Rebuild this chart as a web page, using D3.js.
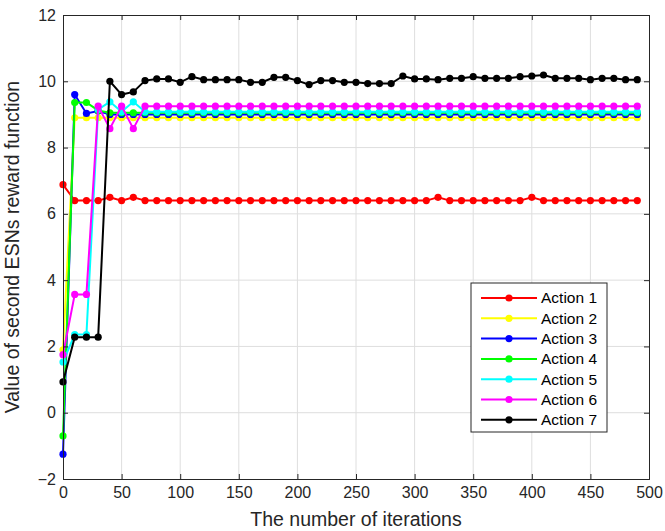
<!DOCTYPE html>
<html>
<head>
<meta charset="utf-8">
<script src="https://cdn.jsdelivr.net/npm/d3@7"></script>
<style>
  body { margin: 0; background: #fff; }
  text { font-family: Arial, "Liberation Sans", sans-serif; }
</style>
</head>
<body>
<div id="chart"></div>
<script>
// iterations 0,10,...,490
var iterations = d3.range(0, 500, 10);

var action1 = [6.88, 6.4, 6.4, 6.4, 6.5, 6.4, 6.5, 6.4, 6.4, 6.4,
  6.4, 6.4, 6.4, 6.4, 6.4, 6.4, 6.4, 6.4, 6.4, 6.4,
  6.4, 6.4, 6.4, 6.4, 6.4, 6.4, 6.4, 6.4, 6.4, 6.4,
  6.4, 6.4, 6.5, 6.4, 6.4, 6.4, 6.4, 6.4, 6.4, 6.4,
  6.5, 6.4, 6.4, 6.4, 6.4, 6.4, 6.4, 6.4, 6.4, 6.4];
var action2 = [1.9, 8.9, 8.9, 8.9, 8.9, 8.9, 8.9, 8.9, 8.9, 8.9,
  8.9, 8.9, 8.9, 8.9, 8.9, 8.9, 8.9, 8.9, 8.9, 8.9,
  8.9, 8.9, 8.9, 8.9, 8.9, 8.9, 8.9, 8.9, 8.9, 8.9,
  8.9, 8.9, 8.9, 8.9, 8.9, 8.9, 8.9, 8.9, 8.9, 8.9,
  8.9, 8.9, 8.9, 8.9, 8.9, 8.9, 8.9, 8.9, 8.9, 8.9];
var action3 = [-1.25, 9.6, 9.03, 9.1, 9.0, 9.0, 9.0, 9.0, 9.0, 9.0,
  9.0, 9.0, 9.0, 9.0, 9.0, 9.0, 9.0, 9.0, 9.0, 9.0,
  9.0, 9.0, 9.0, 9.0, 9.0, 9.0, 9.0, 9.0, 9.0, 9.0,
  9.0, 9.0, 9.0, 9.0, 9.0, 9.0, 9.0, 9.0, 9.0, 9.0,
  9.0, 9.0, 9.0, 9.0, 9.0, 9.0, 9.0, 9.0, 9.0, 9.0];
var action4 = [-0.7, 9.36, 9.36, 9.12, 9.05, 9.05, 9.05, 9.05, 9.05, 9.05,
  9.05, 9.05, 9.05, 9.05, 9.05, 9.05, 9.05, 9.05, 9.05, 9.05,
  9.05, 9.05, 9.05, 9.05, 9.05, 9.05, 9.05, 9.05, 9.05, 9.05,
  9.05, 9.05, 9.05, 9.05, 9.05, 9.05, 9.05, 9.05, 9.05, 9.05,
  9.05, 9.05, 9.05, 9.05, 9.05, 9.05, 9.05, 9.05, 9.05, 9.05];
var action5 = [1.53, 2.36, 2.36, 9.15, 9.38, 9.08, 9.38, 9.08, 9.08, 9.08,
  9.08, 9.08, 9.08, 9.08, 9.08, 9.08, 9.08, 9.08, 9.08, 9.08,
  9.08, 9.08, 9.08, 9.08, 9.08, 9.08, 9.08, 9.08, 9.08, 9.08,
  9.08, 9.08, 9.08, 9.08, 9.08, 9.08, 9.08, 9.08, 9.08, 9.08,
  9.08, 9.08, 9.08, 9.08, 9.08, 9.08, 9.08, 9.08, 9.08, 9.08];
var action6 = [1.75, 3.57, 3.57, 9.25, 8.57, 9.25, 8.57, 9.25, 9.25, 9.25,
  9.25, 9.25, 9.25, 9.25, 9.25, 9.25, 9.25, 9.25, 9.25, 9.25,
  9.25, 9.25, 9.25, 9.25, 9.25, 9.25, 9.25, 9.25, 9.25, 9.25,
  9.25, 9.25, 9.25, 9.25, 9.25, 9.25, 9.25, 9.25, 9.25, 9.25,
  9.25, 9.25, 9.25, 9.25, 9.25, 9.25, 9.25, 9.25, 9.25, 9.25];
var action7 = [0.93, 2.28, 2.28, 2.28, 10.0, 9.6, 9.68, 10.02, 10.07, 10.07,
  9.97, 10.14, 10.05, 10.05, 10.05, 10.05, 9.97, 9.97, 10.12, 10.12,
  10.02, 9.9, 10.02, 10.02, 9.97, 9.97, 9.93, 9.93, 9.93, 10.16,
  10.07, 10.07, 10.05, 10.09, 10.09, 10.14, 10.09, 10.09, 10.09, 10.14,
  10.16, 10.19, 10.09, 10.09, 10.09, 10.05, 10.09, 10.09, 10.05, 10.05];

var seriesNames = ["Action 1", "Action 2", "Action 3", "Action 4", "Action 5", "Action 6", "Action 7"];
var seriesColors = ["#ff0000", "#ffff00", "#0000ff", "#00ff00", "#00ffff", "#ff00ff", "#000000"];
var seriesValues = [action1, action2, action3, action4, action5, action6, action7];

var xTicks = d3.range(0, 501, 50);
var yTicks = d3.range(-2, 13, 2);

var svgWidth = 665;
var svgHeight = 531;
var margin = { top: 15, right: 16, bottom: 52, left: 63 };
var width = svgWidth - margin.left - margin.right;
var height = svgHeight - margin.top - margin.bottom;

var svg = d3.select("#chart")
  .append("svg")
  .attr("width", svgWidth)
  .attr("height", svgHeight);

var g = svg.append("g")
  .attr("transform", `translate(${margin.left}, ${margin.top})`);

var xScale = d3.scaleLinear().domain([0, 500]).range([0, width]);
var yScale = d3.scaleLinear().domain([-2, 12]).range([height, 0]);

// grid
g.append("g")
  .selectAll("line")
  .data(xTicks.slice(1, -1))
  .enter()
  .append("line")
  .attr("x1", d => xScale(d)).attr("x2", d => xScale(d))
  .attr("y1", 0).attr("y2", height)
  .attr("stroke", "#dedede")
  .attr("stroke-width", 1);

g.append("g")
  .selectAll("line")
  .data(yTicks.slice(1, -1))
  .enter()
  .append("line")
  .attr("y1", d => yScale(d)).attr("y2", d => yScale(d))
  .attr("x1", 0).attr("x2", width)
  .attr("stroke", "#dedede")
  .attr("stroke-width", 1);

// lines + markers
var line = d3.line()
  .x((d, i) => xScale(iterations[i]))
  .y(d => yScale(d));

seriesValues.forEach(function(vals, k) {
  g.append("path")
    .datum(vals)
    .attr("d", line)
    .attr("fill", "none")
    .attr("stroke", seriesColors[k])
    .attr("stroke-width", 2);

  g.append("g")
    .selectAll("circle")
    .data(vals)
    .enter()
    .append("circle")
    .attr("cx", (d, i) => xScale(iterations[i]))
    .attr("cy", d => yScale(d))
    .attr("r", 3.6)
    .attr("fill", seriesColors[k]);
});

// axes
var xAxis = d3.axisBottom(xScale).tickValues(xTicks).tickSize(-5).tickPadding(8).tickFormat(d3.format("d"));
var yAxis = d3.axisLeft(yScale).tickValues(yTicks).tickSize(-5).tickPadding(7).tickFormat(d3.format("d"));

var xAxisG = g.append("g")
  .attr("transform", `translate(0,${height})`)
  .call(xAxis);
var yAxisG = g.append("g").call(yAxis);

g.append("g").call(d3.axisTop(xScale).tickValues(xTicks).tickSize(-5).tickFormat(""));
g.append("g").attr("transform", `translate(${width},0)`)
  .call(d3.axisRight(yScale).tickValues(yTicks).tickSize(-5).tickFormat(""));

g.selectAll(".domain").attr("stroke", "#262626").attr("stroke-width", 1);
g.selectAll(".tick line").attr("stroke", "#262626");
g.selectAll(".tick text")
  .attr("fill", "#262626")
  .style("font-size", "16px");

// axis labels
g.append("text")
  .attr("x", width / 2)
  .attr("y", height + 47)
  .attr("text-anchor", "middle")
  .attr("fill", "#262626")
  .style("font-size", "19.5px")
  .text("The number of iterations");

g.append("text")
  .attr("transform", `translate(-44, ${height / 2}) rotate(-90)`)
  .attr("text-anchor", "middle")
  .attr("fill", "#262626")
  .style("font-size", "19.5px")
  .text("Value of second ESNs reward function");

// legend
var legend = svg.append("g")
  .attr("transform", "translate(471, 283)");

legend.append("rect")
  .attr("width", 136)
  .attr("height", 149)
  .attr("fill", "#fff")
  .attr("stroke", "#262626")
  .attr("stroke-width", 1);

var legendItem = legend.selectAll("g.item")
  .data(seriesNames)
  .enter()
  .append("g")
  .attr("class", "item")
  .attr("transform", (d, i) => `translate(0, ${15 + i * 20.3})`);

legendItem.append("line")
  .attr("x1", 10).attr("x2", 66)
  .attr("stroke", (d, i) => seriesColors[i])
  .attr("stroke-width", 2);

legendItem.append("circle")
  .attr("cx", 38)
  .attr("r", 3.6)
  .attr("fill", (d, i) => seriesColors[i]);

legendItem.append("text")
  .attr("x", 70)
  .attr("dy", "0.35em")
  .attr("fill", "#000")
  .style("font-size", "15.5px")
  .text(d => d);
</script>
</body>
</html>
